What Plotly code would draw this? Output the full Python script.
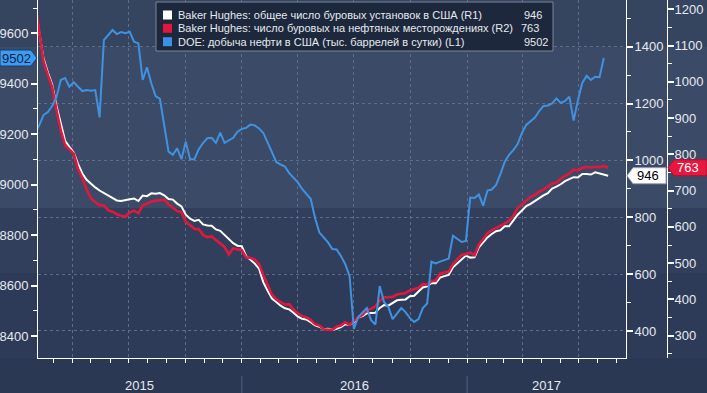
import plotly.graph_objects as go
import pandas as pd

# ---------------- DATA ----------------
rig_dates = pd.date_range("2015-01-30", "2017-08-18", freq="W-FRI")
prod_dates = pd.date_range("2015-01-30", "2017-08-11", freq="W-FRI")

# Baker Hughes: total US rig count (R1)
total_rigs = [
    1543, 1456, 1358, 1310, 1267, 1192, 1125, 1069, 1048, 1028, 988, 954, 932, 918, 905, 894, 885, 875,
    868, 859, 857, 859, 863, 866, 857, 876, 874, 884, 883, 885, 877, 864, 862, 848, 838, 809, 795, 787, 791,
    775, 771, 770, 757, 752, 737, 724, 709, 700,
    698, 664, 650, 637, 619, 571, 541, 514, 502, 489, 480, 476, 464, 450, 443, 440, 431, 420, 415, 406, 408, 404,
    408, 414, 424, 421, 431, 447, 452, 462, 463, 464, 481, 491, 489, 497, 508, 510, 511, 522, 524, 539, 553, 557,
    569, 568, 588, 593, 597, 624, 637, 653, 665,
    658, 659, 694, 712, 729, 741, 751, 754, 768, 768, 789, 809, 824, 839, 847, 857, 870, 877, 885, 901, 908,
    916, 927, 933, 941, 940, 952, 952, 950, 958, 954, 949, 946,
]

# Baker Hughes: oil rigs (R2)
oil_rigs = [
    1223, 1140, 1056, 1019, 986, 922, 866, 825, 813, 802, 760, 734, 703, 679, 668, 660, 659, 646,
    642, 635, 631, 628, 640, 645, 638, 659, 664, 670, 672, 674, 675, 662, 652, 644, 640, 614, 605, 595, 594,
    578, 572, 574, 564, 555, 545, 524, 541, 538,
    536, 516, 515, 510, 498, 467, 439, 413, 400, 392, 386, 387, 372, 362, 354, 351, 343, 332, 328, 318, 318, 316,
    325, 328, 337, 330, 341, 351, 357, 371, 374, 381, 396, 406, 406, 407, 414, 416, 418, 425, 428, 432, 443, 441,
    450, 452, 471, 474, 477, 498, 510, 523, 525,
    529, 522, 551, 566, 583, 591, 597, 602, 609, 617, 631, 652, 662, 672, 683, 688, 697, 703, 712, 720, 722,
    733, 741, 747, 758, 756, 763, 765, 764, 766, 765, 768, 763,
]

# DOE: US crude oil production, thousand b/d (L1)
oil_production = [
    9205,
    9235, 9276, 9288, 9312, 9347, 9415, 9423, 9388, 9406, 9388,
    9371, 9375, 9372, 9375, 9267, 9573, 9593, 9613, 9597, 9605,
    9600, 9606, 9567, 9560, 9415, 9465, 9402, 9351, 9340, 9243,
    9131, 9118, 9144, 9101, 9170, 9101, 9101, 9140, 9165, 9184,
    9186, 9166, 9206, 9166, 9177, 9186, 9210, 9221, 9225, 9238,
    9235, 9223, 9205, 9165, 9129, 9090, 9080, 9072, 9046, 9026,
    9009, 8983, 8961, 8943, 8868, 8810, 8791, 8771, 8745, 8743,
    8717, 8685, 8638, 8428, 8475, 8495, 8511, 8463, 8446, 8598,
    8535, 8515, 8467, 8489, 8511, 8495, 8471, 8456, 8467, 8511,
    8529, 8695, 8688, 8695, 8701, 8707, 8798, 8785, 8773, 8777,
    8949, 8947, 8961, 8917, 8977, 8981, 8999, 9042, 9090, 9118,
    9137, 9161, 9205, 9237, 9250, 9266, 9292, 9312, 9314, 9322,
    9342, 9324, 9332, 9349, 9254, 9336, 9403, 9431, 9415, 9428,
    9426, 9502,
]

series_names = [
    "Baker Hughes: общее число буровых установок в США (R1)",
    "Baker Hughes: число буровых на нефтяных месторождениях (R2)",
    "DOE: добыча нефти в США (тыс. баррелей в сутки) (L1)",
]
year_labels = ["2015", "2016", "2017"]

# ---------------- LAYOUT CONSTANTS ----------------
W, H = 707, 393
ML, MR, MT, MB = 38, 40, 0, 35
PW, PH = W - ML - MR, H - MT - MB
X_END = 626

def fx(p):
    return (p - ML) / PW

def fy(p):
    return 1 - (p - MT) / PH

x_range = ["2015-02-04", "2017-09-16"]
R1_range = [305, 1564]
R2_range = [238.6, 1225.6]
L1_range = [8313, 9732]

WHITE, RED, BLUE = "#ffffff", "#e3173e", "#4092e0"
GRID = "#5f6d8a"
TXT = "#e6e9ef"
FONT = "Liberation Sans, Arial, sans-serif"

fig = go.Figure()
fig.add_trace(go.Scatter(x=rig_dates, y=total_rigs, yaxis="y", mode="lines",
                         line=dict(color=WHITE, width=2), name=series_names[0], hoverinfo="skip"))
fig.add_trace(go.Scatter(x=rig_dates, y=oil_rigs, yaxis="y2", mode="lines",
                         line=dict(color=RED, width=2.6), name=series_names[1], hoverinfo="skip"))
fig.add_trace(go.Scatter(x=prod_dates, y=oil_production, yaxis="y3", mode="lines",
                         line=dict(color=BLUE, width=2), name=series_names[2], hoverinfo="skip"))

shapes = []
annotations = []

# background bands (full width)
bands = [(0, 47, "#35445f"), (47, 208, "#3b4a67"), (208, 273, "#313f5c"), (273, 358, "#2e3b58")]
for y0, y1, c in bands:
    shapes.append(dict(type="rect", xref="paper", yref="paper", x0=fx(0), x1=fx(W),
                       y0=fy(y1), y1=fy(y0), fillcolor=c, line=dict(width=0), layer="below"))

# year dividers and labels
t0, t1 = pd.Timestamp(x_range[0]), pd.Timestamp(x_range[1])
bounds = [t0, pd.Timestamp("2016-01-01"), pd.Timestamp("2017-01-01"), t1]
for d in bounds[1:3]:
    shapes.append(dict(type="line", xref="x", yref="paper", x0=d, x1=d, y0=fy(376), y1=fy(393),
                       line=dict(color="#50607e", width=1)))
for i, lab in enumerate(year_labels):
    mid = bounds[i] + (bounds[i + 1] - bounds[i]) / 2
    annotations.append(dict(x=mid, xref="x", y=fy(385), yref="paper", text=lab, showarrow=False,
                            font=dict(family=FONT, size=13, color=TXT), xanchor="center", yanchor="middle"))

# value tags
def units(rng):
    return (rng[1] - rng[0]) / PH

def tag_left_pointing(xt, xr, v, yref, rng, fill, border, text, tcolor, tx):
    u = units(rng)
    h = 8 * u
    path = (f"M {fx(xt)},{v} L {fx(xt + 6)},{v + h} L {fx(xr)},{v + h} "
            f"L {fx(xr)},{v - h} L {fx(xt + 6)},{v - h} Z")
    shapes.append(dict(type="path", xref="paper", yref=yref, path=path, fillcolor=fill,
                       line=dict(color=border, width=1), layer="above"))
    annotations.append(dict(x=fx(tx), xref="paper", y=v, yref=yref, text=text, showarrow=False,
                            font=dict(family=FONT, size=13, color=tcolor), xanchor="center", yanchor="middle"))

def tag_right_pointing(xl, xt, v, yref, rng, fill, border, text, tcolor, tx):
    u = units(rng)
    h = 8 * u
    path = (f"M {fx(xl)},{v + h} L {fx(xt - 6)},{v + h} L {fx(xt)},{v} "
            f"L {fx(xt - 6)},{v - h} L {fx(xl)},{v - h} Z")
    shapes.append(dict(type="path", xref="paper", yref=yref, path=path, fillcolor=fill,
                       line=dict(color=border, width=1), layer="above"))
    annotations.append(dict(x=fx(tx), xref="paper", y=v, yref=yref, text=text, showarrow=False,
                            font=dict(family=FONT, size=13, color=tcolor), xanchor="center", yanchor="middle"))

last_total = total_rigs[-1]
last_oil = oil_rigs[-1]
last_prod = oil_production[-1]

tag_right_pointing(0, 37, last_prod, "y3", L1_range, "#3d9cf0", "#1b3f6e", str(last_prod), "#0c2242", 16)
tag_left_pointing(627, 666, last_total, "y", R1_range, "#ffffff", "#9aa3b5", str(last_total), "#000000", 648)
tag_left_pointing(668, 707, last_oil, "y2", R2_range, "#e8173d", "#b01030", str(last_oil), "#ffffff", 688)

# custom legend
shapes.append(dict(type="rect", xref="paper", yref="paper", x0=fx(156), x1=fx(553), y0=fy(51), y1=fy(2),
                   fillcolor="#1d283c", line=dict(color="#7b859b", width=1), layer="above"))
rows = [15, 28.3, 41.7]
colors = [WHITE, RED, "#3d8fe8"]
values = [last_total, last_oil, last_prod]
val_x = [522, 519, 522]
for r, c, name, val, vx in zip(rows, colors, series_names, values, val_x):
    shapes.append(dict(type="rect", xref="paper", yref="paper", x0=fx(163), x1=fx(172),
                       y0=fy(r + 4.5), y1=fy(r - 4.5), fillcolor=c, line=dict(width=0), layer="above"))
    annotations.append(dict(x=fx(176), xref="paper", y=fy(r), yref="paper", text=name, showarrow=False,
                            font=dict(family=FONT, size=11, color=TXT), xanchor="left", yanchor="middle"))
    annotations.append(dict(x=fx(vx), xref="paper", y=fy(r), yref="paper", text=str(val), showarrow=False,
                            font=dict(family=FONT, size=11, color=TXT), xanchor="left", yanchor="middle"))

tickfont = dict(family=FONT, size=13, color=TXT)

fig.update_layout(
    template="none",
    width=W, height=H,
    margin=dict(l=ML, r=MR, t=MT, b=MB, autoexpand=False),
    paper_bgcolor="#2b3854",
    plot_bgcolor="rgba(0,0,0,0)",
    showlegend=False,
    hovermode=False,
    shapes=shapes,
    annotations=annotations,
    xaxis=dict(
        domain=[0, (X_END - ML) / PW], type="date", range=x_range, showline=True, linecolor=WHITE,
        linewidth=1, ticks="outside", ticklen=4, tickwidth=1, tickcolor=WHITE, dtick="M3",
        tick0="2015-01-01", showticklabels=False, showgrid=True, gridcolor=GRID, gridwidth=1,
        griddash="3px,3px", zeroline=False, automargin=False,
        minor=dict(dtick="M1", tick0="2015-01-01", ticks="outside", ticklen=4, tickwidth=1,
                   tickcolor=WHITE, showgrid=False),
    ),
    yaxis=dict(
        domain=[0, 1], range=R1_range, side="right", anchor="x", showline=True, linecolor=WHITE,
        linewidth=1, ticks="outside", ticklen=6, tickwidth=2, tickcolor=WHITE, dtick=200, tick0=400,
        tickfont=tickfont, showgrid=True, gridcolor=GRID, gridwidth=1, griddash="3px,3px",
        zeroline=False, automargin=False, ticklabelstandoff=-1,
        minor=dict(dtick=100, tick0=400, ticks="outside", ticklen=4, tickwidth=1, tickcolor=WHITE,
                   showgrid=False),
    ),
    yaxis2=dict(
        overlaying="y", range=R2_range, side="right", anchor="free", position=1.0, showline=True,
        linecolor=WHITE, linewidth=1, ticks="outside", ticklen=6, tickwidth=2, tickcolor=WHITE,
        dtick=100, tick0=300, tickfont=tickfont, showgrid=False, zeroline=False, automargin=False,
        ticklabelstandoff=-2,
        minor=dict(dtick=50, tick0=300, ticks="outside", ticklen=4, tickwidth=1, tickcolor=WHITE,
                   showgrid=False),
    ),
    yaxis3=dict(
        overlaying="y", range=L1_range, side="left", anchor="x", showline=True, linecolor=WHITE,
        linewidth=1, ticks="outside", ticklen=6, tickwidth=2, tickcolor=WHITE, dtick=200, tick0=8400,
        tickfont=tickfont, showgrid=False, zeroline=False, automargin=False,
        minor=dict(dtick=100, tick0=8400, ticks="outside", ticklen=4, tickwidth=1, tickcolor=WHITE,
                   showgrid=False),
    ),
)

fig.write_html(
    "out.html",
    config={"displayModeBar": False, "staticPlot": True},
    post_script="document.body.style.margin='0px';document.body.style.overflow='hidden';",
)
